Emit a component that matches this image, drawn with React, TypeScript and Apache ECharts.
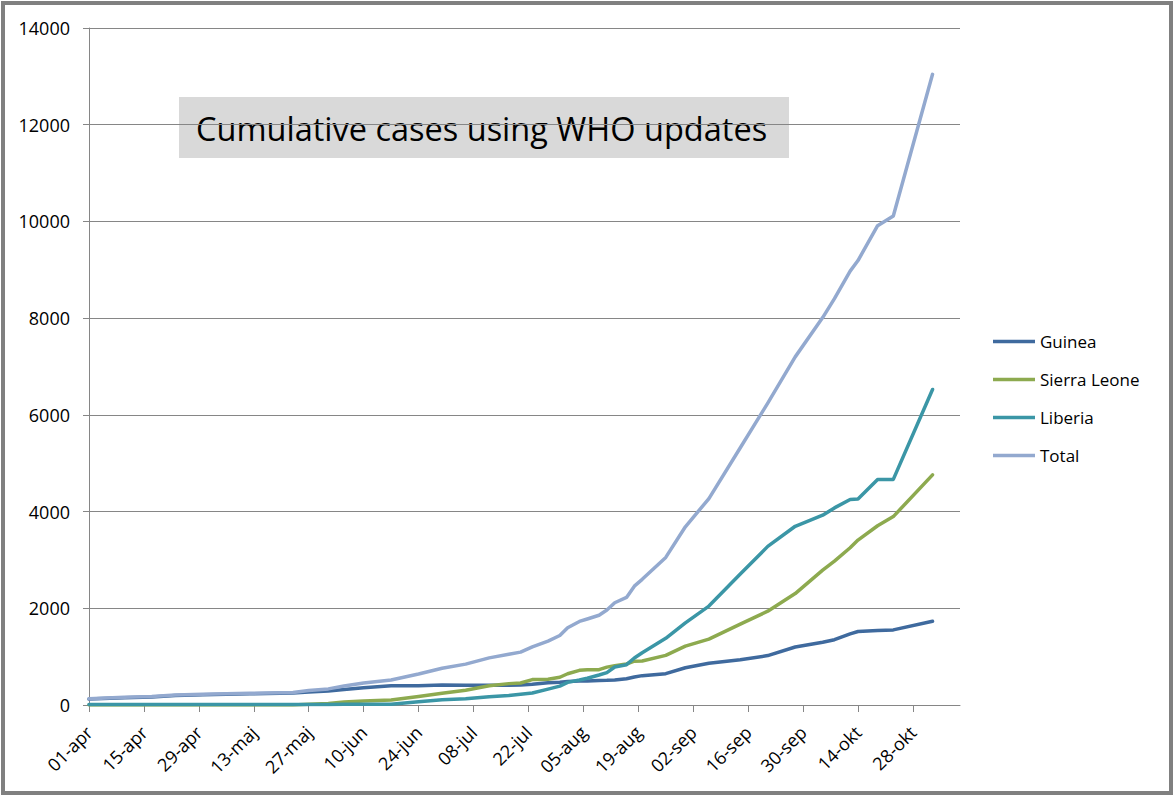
import React, { useEffect, useRef } from "react";
import * as echarts from "echarts";

// ---- data (WHO cumulative case updates) ----
const dates = [
  "2014-04-01", "2014-04-10", "2014-04-17", "2014-04-23", "2014-04-30", "2014-05-12", "2014-05-23", "2014-05-27",
  "2014-06-01", "2014-06-05", "2014-06-10", "2014-06-17", "2014-06-24", "2014-06-30", "2014-07-06", "2014-07-12",
  "2014-07-17", "2014-07-20", "2014-07-23", "2014-07-27", "2014-07-30", "2014-08-01", "2014-08-04", "2014-08-06",
  "2014-08-09", "2014-08-11", "2014-08-13", "2014-08-16", "2014-08-18", "2014-08-20", "2014-08-26", "2014-08-31",
  "2014-09-06", "2014-09-14", "2014-09-21", "2014-09-28", "2014-10-05", "2014-10-08", "2014-10-12", "2014-10-14",
  "2014-10-19", "2014-10-23", "2014-11-02",
];
const guinea = [
  122, 150, 165, 195, 210, 231, 248, 271, 291, 320, 358, 398, 400, 413, 409, 406, 410, 415, 427, 460, 472, 485,
  495, 495, 506, 510, 519, 543, 579, 607, 648, 771, 862, 936, 1022, 1199, 1298, 1350, 1472, 1519, 1540, 1553, 1731,
];
const sierraLeone = [
  0, 0, 0, 0, 0, 0, 0, 16, 30, 60, 85, 103, 176, 241, 305, 397, 442, 454, 525, 533, 574, 646, 717, 730, 730, 783,
  810, 848, 907, 910, 1026, 1216, 1361, 1673, 1940, 2304, 2789, 2977, 3252, 3410, 3706, 3896, 4759,
];
const liberia = [
  8, 12, 12, 12, 12, 12, 12, 12, 12, 13, 13, 16, 65, 107, 131, 172, 196, 224, 249, 329, 391, 468, 516, 554, 620,
  670, 786, 834, 972, 1082, 1378, 1698, 2046, 2710, 3280, 3696, 3924, 4076, 4249, 4262, 4665, 4665, 6525,
];
const total = [
  130, 162, 177, 207, 222, 243, 260, 299, 333, 393, 456, 517, 641, 761, 845, 975, 1048, 1093, 1201, 1322, 1437,
  1599, 1728, 1779, 1856, 1963, 2115, 2225, 2458, 2599, 3052, 3685, 4269, 5319, 6242, 7199, 8011, 8403, 8973, 9191,
  9911, 10114, 13042,
];
const seriesNames = ["Guinea", "Sierra Leone", "Liberia", "Total"];
const tickDates = [
  "2014-04-01", "2014-04-15", "2014-04-29", "2014-05-13", "2014-05-27", "2014-06-10", "2014-06-24", "2014-07-08",
  "2014-07-22", "2014-08-05", "2014-08-19", "2014-09-02", "2014-09-16", "2014-09-30", "2014-10-14", "2014-10-28",
];
const axisEndDate = "2014-11-09";
const monthNames = ["jan", "feb", "mar", "apr", "maj", "jun", "jul", "aug", "sep", "okt", "nov", "dec"];
const yTicks = { min: 0, max: 14000, step: 2000 };
const titleText = "Cumulative cases using WHO updates";

const START = Date.UTC(2014, 3, 1);
const dayOf = (s: string) => {
  const [y, m, d] = s.split("-").map(Number);
  return Math.round((Date.UTC(y, m - 1, d) - START) / 86400000);
};
const labelOf = (day: number) => {
  const dt = new Date(START + day * 86400000);
  const dd = String(dt.getUTCDate()).padStart(2, "0");
  return dd + "-" + monthNames[dt.getUTCMonth()];
};

const colors = ["#3F6A9E", "#8DAA4F", "#3B96A6", "#93A9CF"];
const FONT = "'Open Sans', sans-serif";

export default function App() {
  const ref = useRef<HTMLDivElement>(null);
  useEffect(() => {
    if (!ref.current) return;
    const chart = echarts.init(ref.current, null, { renderer: "svg" });
    const days = dates.map(dayOf);
    const tickDays = tickDates.map(dayOf);
    const values = [guinea, sierraLeone, liberia, total];
    chart.setOption({
      animation: false,
      backgroundColor: "#ffffff",
      grid: { left: 89, top: 28, right: 215, bottom: 92, containLabel: false, outerBoundsMode: "none" },
      legend: {
        orient: "vertical",
        left: 988,
        top: 328,
        itemWidth: 42,
        itemHeight: 14,
        itemGap: 21,
        textStyle: { fontFamily: FONT, fontSize: 17, color: "#000", lineHeight: 14 },
        data: seriesNames.map((n, i) => ({ name: n, itemStyle: { color: colors[i] }, icon: "path://M0,6h42v3.5h-42z" })),
      },
      xAxis: {
        type: "value",
        min: 0,
        max: dayOf(axisEndDate),
        interval: 14,
        axisLine: { show: true, lineStyle: { color: "#868686", width: 1 } },
        axisTick: { show: true, length: 7, lineStyle: { color: "#868686" }, customValues: tickDays },
        splitLine: { show: false },
        axisLabel: {
          customValues: tickDays,
          rotate: 45,
          margin: 24,
          color: "#000",
          fontFamily: FONT,
          fontSize: 18,
          formatter: (v: number) => labelOf(v),
        },
      },
      yAxis: {
        type: "value",
        min: yTicks.min,
        max: yTicks.max,
        interval: yTicks.step,
        axisLine: { show: true, lineStyle: { color: "#868686", width: 1 } },
        axisTick: { show: true, length: 6, lineStyle: { color: "#868686" } },
        splitLine: { show: true, lineStyle: { color: "#868686", width: 1 } },
        axisLabel: {
          margin: 19,
          color: "#000",
          fontFamily: FONT,
          fontSize: 18,
          formatter: (v: number) => String(v),
        },
      },
      graphic: [
        {
          type: "rect",
          z: -10,
          shape: { x: 179, y: 97, width: 610, height: 61 },
          style: { fill: "#D9D9D9" },
          silent: true,
        },
        {
          type: "text",
          z: -9,
          x: 196,
          y: 128,
          style: {
            text: titleText,
            fontFamily: FONT,
            fontSize: 32.5,
            fill: "#000",
            verticalAlign: "middle",
            align: "left",
          },
          silent: true,
        },
        {
          type: "rect",
          z: 100,
          shape: { x: 3, y: 3, width: 1168, height: 790 },
          style: { fill: "none", stroke: "#808080", lineWidth: 4 },
          silent: true,
        },
      ],
      series: seriesNames.map((name, i) => ({
        name,
        type: "line",
        symbol: "none",
        showSymbol: false,
        smooth: false,
        color: colors[i],
        lineStyle: { width: 3.5, color: colors[i], cap: "round", join: "round" },
        data: days.map((d, k) => [d, values[i][k]]),
      })),
    });
    return () => chart.dispose();
  }, []);
  return (
    <div
      ref={ref}
      style={{ position: "absolute", left: 0, top: 0, width: 1175, height: 797, background: "#fff" }}
    />
  );
}
